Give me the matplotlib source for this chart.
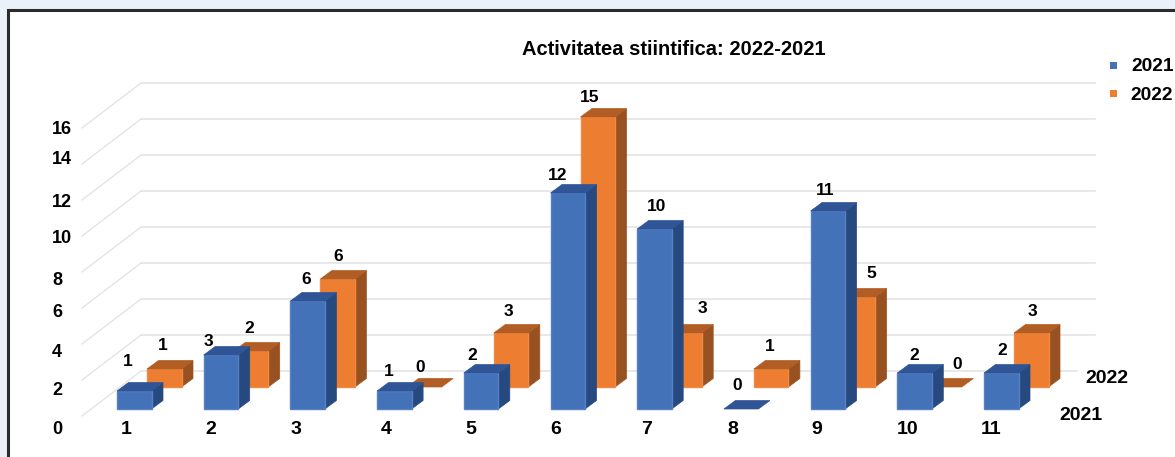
import matplotlib
matplotlib.use('Agg')
import matplotlib.pyplot as plt
from matplotlib.patches import Polygon, Rectangle

plt.rcParams['font.family'] = ['Liberation Sans', 'DejaVu Sans']

categories = ['1', '2', '3', '4', '5', '6', '7', '8', '9', '10', '11']
values_2021 = [1, 3, 6, 1, 2, 12, 10, 0, 11, 2, 2]
values_2022 = [1, 2, 6, 0, 3, 15, 3, 1, 5, 0, 3]
y_ticks = [0, 2, 4, 6, 8, 10, 12, 14, 16]

# label spots as they sit in the picture, Excel placed them unevenly
tick_y = [428, 389, 351, 311, 279, 237, 201, 158, 128]
cat_x = [126, 211, 296, 386, 471, 556, 647, 733, 817, 908, 991]
label_2021 = [(128, 360), (208, 340), (306, 278), (389, 370), (472, 354), (558, 174),
              (657, 205), (737, 384), (825, 189), (914, 354), (1002, 349)]
label_2022 = [(163, 344), (249, 327), (338, 255), (420, 366), (508, 310), (590, 96),
              (702, 307), (770, 345), (871, 272), (957, 363), (1032, 310)]

UNIT = 18.0     # px per value
STEP = 86.7     # px between categories
BAR_W = 34.5
DX, DY = 11.5, 8.5  # bar depth
TXT_DY = 1.5    # centre of digits sits a bit high otherwise


def box(ax, left, base, value, front, side, top):
    h = value * UNIT
    t = base - h
    if value > 0:
        ax.add_patch(Polygon([(left + BAR_W, base), (left + BAR_W + DX, base - DY),
                              (left + BAR_W + DX, t - DY), (left + BAR_W, t)], fc=side, ec=side, lw=0.5))
        ax.add_patch(Rectangle((left, t), BAR_W, h, fc=front[0], ec=front[1], lw=1))
    ax.add_patch(Polygon([(left, t), (left + DX, t - DY), (left + BAR_W + DX, t - DY),
                          (left + BAR_W, t)], fc=top, ec=top, lw=0.5))


fig = plt.figure(figsize=(11.75, 4.57), dpi=100, facecolor='#eaf1f8')
ax = fig.add_axes([0, 0, 1, 1])
ax.set_xlim(0, 1175)
ax.set_ylim(457, 0)
ax.axis('off')

# white panel with the dark frame
ax.add_patch(Rectangle((7.5, 9.5), 1180, 460, fc='white', ec='#2b2b2b', lw=2.2))

# walls
for v in y_ticks:
    y = 371 - v * UNIT
    x_end = 1077 if v == 0 else 1095
    ax.plot([141, x_end], [y, y], color='#e4e4e4', lw=1.2, zorder=1)
    ax.plot([82, 141], [y + 45, y], color='#e4e4e4', lw=1.0, zorder=1)

# back row first so the blue bars cover it
for i, v in enumerate(values_2022):
    box(ax, 147 + i * STEP, 387, v, ('#ed7d31', '#f08a45'), '#985222', '#b25d24')
for i, v in enumerate(values_2021):
    box(ax, 117 + i * STEP, 409, v, ('#4472b8', '#5480c4'), '#264a80', '#2f5597')

bold = dict(fontweight='bold', color='black', ha='center', va='center')
for v, y in zip(y_ticks, tick_y):
    ax.text(52, y + TXT_DY, str(v), fontsize=13, fontweight='bold', ha='left', va='center')
for c, x in zip(categories, cat_x):
    ax.text(x, 428 + TXT_DY, c, fontsize=14, **bold)
for v, (x, y) in zip(values_2021, label_2021):
    ax.text(x, y + TXT_DY, str(v), fontsize=12.5, **bold)
for v, (x, y) in zip(values_2022, label_2022):
    ax.text(x, y + TXT_DY, str(v), fontsize=12.5, **bold)

ax.text(1107, 377 + TXT_DY, '2022', fontsize=14, **bold)
ax.text(1081, 414 + TXT_DY, '2021', fontsize=14, **bold)
ax.text(673.5, 48 + TXT_DY, 'Activitatea stiintifica: 2022-2021', fontsize=14.5, **bold)

# legend
ax.add_patch(Rectangle((1110, 62), 6.5, 7, fc='#4472b8', ec='none'))
ax.add_patch(Rectangle((1110, 90), 6.5, 7, fc='#ed7d31', ec='none'))
ax.text(1131, 65 + TXT_DY, '2021', fontsize=13.8, fontweight='bold', va='center', ha='left')
ax.text(1130.5, 94 + TXT_DY, '2022', fontsize=13.8, fontweight='bold', va='center', ha='left')

fig.savefig('out.png', dpi=100, facecolor=fig.get_facecolor())
